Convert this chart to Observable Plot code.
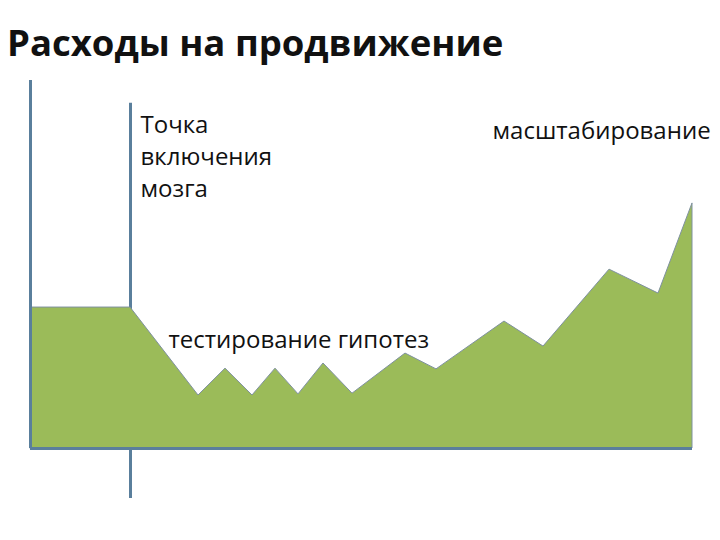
<!DOCTYPE html>
<html>
<head>
<meta charset="utf-8">
<script src="https://cdn.jsdelivr.net/npm/d3@7"></script>
<script src="https://cdn.jsdelivr.net/npm/@observablehq/plot@0.6"></script>
<style>
  html, body { margin: 0; padding: 0; background: #fff; }
  #wrap { width: 720px; height: 540px; position: relative; overflow: hidden; }
  #title { height: 72px; box-sizing: border-box; padding: 20px 0 0 7px;
           font-family: "Open Sans", "DejaVu Sans", sans-serif; font-weight: 700;
           font-size: 36.5px; line-height: 44px; color: #111; white-space: nowrap; }
</style>
</head>
<body>
<div id="wrap">
  <div id="title">Расходы на продвижение</div>
  <div id="chart"></div>
</div>
<script>
// time steps (arbitrary units) and promotion spending (arbitrary units)
const time =     [0,    10,   16.8, 19.5, 22.2, 24.5, 26.8, 29.3, 32.2, 37.5, 40.6, 47.4, 51.3, 57.9, 62.8, 66.2];
const spending = [38.3, 38.3, 14.4, 21.7, 14.4, 21.7, 14.7, 23.1, 14.9, 25.8, 21.5, 34.5, 27.7, 48.6, 42.1, 66.6];

const brainPoint = 10;          // "Точка включения мозга"
const annotations = [
  {x: 11, y: 92, text: "Точка\nвключения\nмозга"},
  {x: 13.8, y: 33.6, text: "тестирование гипотез"},
  {x: 46.2, y: 90.4, text: "масштабирование"}
];

const data = time.map((t, i) => ({t, v: spending[i]}));
const xMax = time[time.length - 1];
const axisColor = "#5a7f9c";

const chart = Plot.plot({
  width: 720,
  height: 468,
  marginLeft: 30,
  marginRight: 28,
  marginTop: 8,
  marginBottom: 92,
  x: {domain: [0, xMax], axis: null},
  y: {domain: [0, 100], axis: null},
  style: {fontFamily: "Open Sans, DejaVu Sans, sans-serif", overflow: "visible"},
  marks: [
    Plot.ruleX([brainPoint], {y1: -13.6, y2: 93.8, stroke: axisColor, strokeWidth: 3}),
    Plot.areaY(data, {x: "t", y: "v", fill: "#9bbb59", stroke: "#7f919f", strokeWidth: 1, curve: "linear"}),
    Plot.ruleX([0], {y1: 0, y2: 100, stroke: axisColor, strokeWidth: 3}),
    Plot.ruleY([0], {x1: 0, x2: xMax, stroke: axisColor, strokeWidth: 3}),
    Plot.text(annotations, {x: "x", y: "y", text: "text", textAnchor: "start", lineAnchor: "top",
      fontSize: 24, lineHeight: 1.34, fill: "#111"})
  ]
});
document.getElementById("chart").appendChild(chart);
</script>
</body>
</html>
